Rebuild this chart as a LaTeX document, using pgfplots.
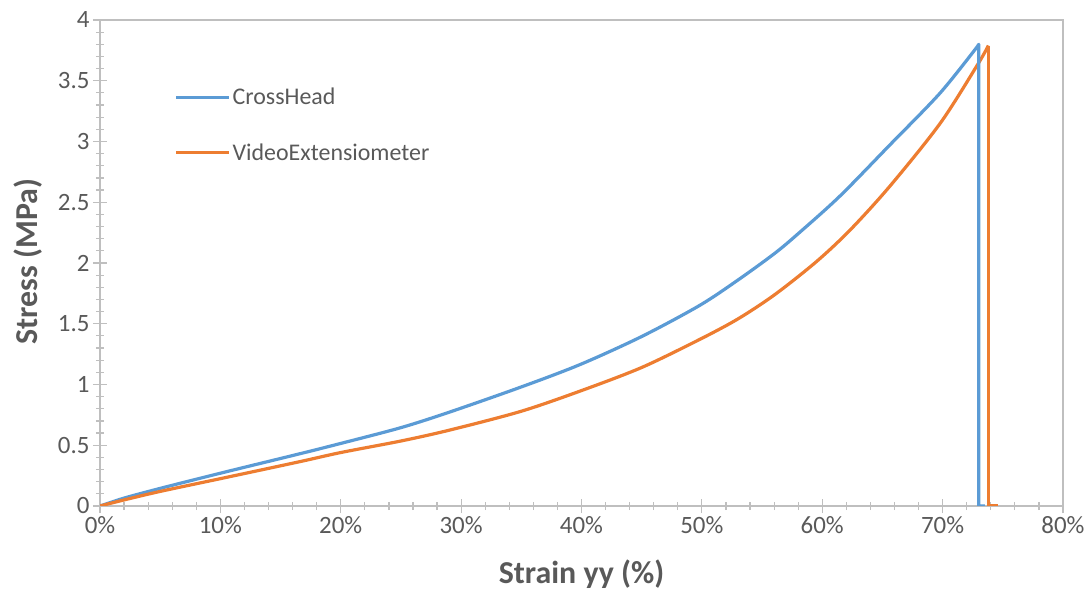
\documentclass[border=0pt]{standalone}
\usepackage{fontspec}
\setmainfont{Carlito}
\usepackage{pgfplots}
\pgfplotsset{compat=1.18}
\definecolor{cblue}{HTML}{5B9BD5}
\definecolor{corange}{HTML}{ED7D31}
\definecolor{axgray}{HTML}{BFBFBF}
\definecolor{txt}{HTML}{595959}

\begin{document}
\begin{tikzpicture}
\useasboundingbox (0,0) rectangle (1091bp,593bp);
\begin{axis}[
  at={(100bp,87bp)}, anchor=south west,
  scale only axis, width=963bp, height=486bp,
  xmin=0, xmax=80, ymin=0, ymax=4,
  xtick={0,10,20,30,40,50,60,70,80},
  ytick={0,0.5,1,1.5,2,2.5,3,3.5,4},
  minor x tick num=4, minor y tick num=4,
  tick align=center, tick pos=left,
  major tick length=14bp, minor tick length=8bp,
  every tick/.style={axgray, line width=1.2bp},
  axis line style={axgray, line width=1.2bp},
  /pgf/number format/assume math mode=true,
  xticklabel={\pgfmathprintnumber{\tick}\%},
  tick label style={font=\fontsize{25}{25}\selectfont, text=txt},
  xlabel={\textbf{Strain yy (\%)}},
  ylabel={\textbf{Stress (MPa)}},
  label style={font=\fontsize{32}{32}\selectfont, text=txt},
  xlabel style={at={(axis description cs:0.5,-0.14)}, anchor=center},
  ylabel style={at={(axis description cs:-0.075,0.503)}, anchor=center},
  legend style={draw=none, fill=none, at={(axis description cs:0.074,0.868)}, anchor=north west,
    font=\fontsize{24}{24}\selectfont, text=txt, row sep=33bp, column sep=0pt,
    nodes={inner sep=2bp}},
  legend cell align=left,
  legend image code/.code={\draw[#1] (0bp,0bp) -- (53bp,0bp);},
]
\addplot[cblue, line width=3.2bp, smooth, tension=0.5] coordinates {
(0,0) (2,0.065) (5,0.145) (10,0.27) (16.6,0.43) (20,0.515) (25,0.645) (29.1,0.775)
(35,0.98) (39.9,1.165) (45,1.395) (49.8,1.65) (53,1.86) (56.06,2.08)
(58.1,2.25) (61.46,2.55) (65.6,2.97) (69.8,3.40) (72.95,3.79)
};
\addlegendentry{CrossHead}
\addplot[corange, line width=3.2bp, smooth, tension=0.5] coordinates {
(0,0) (2,0.05) (5,0.12) (10,0.225) (16.6,0.365) (20,0.44) (25,0.535) (29.1,0.626)
(35,0.78) (40,0.95) (45,1.14) (49.8,1.37) (53,1.54) (56.06,1.74)
(59.5,2.01) (62.3,2.27) (65.6,2.63) (69.8,3.15) (72.95,3.64) (73.8,3.79)
};
\addlegendentry{VideoExtensiometer}
\addplot[cblue, line width=3.2bp, line join=round, forget plot] coordinates {
(72.95,3.79) (73.0,3.80) (73.0,0) (73.5,0)
};
\addplot[corange, line width=3.2bp, line join=round, forget plot] coordinates {
(73.8,3.79) (73.8,0) (74.6,0)
};
\end{axis}
\end{tikzpicture}
\end{document}
